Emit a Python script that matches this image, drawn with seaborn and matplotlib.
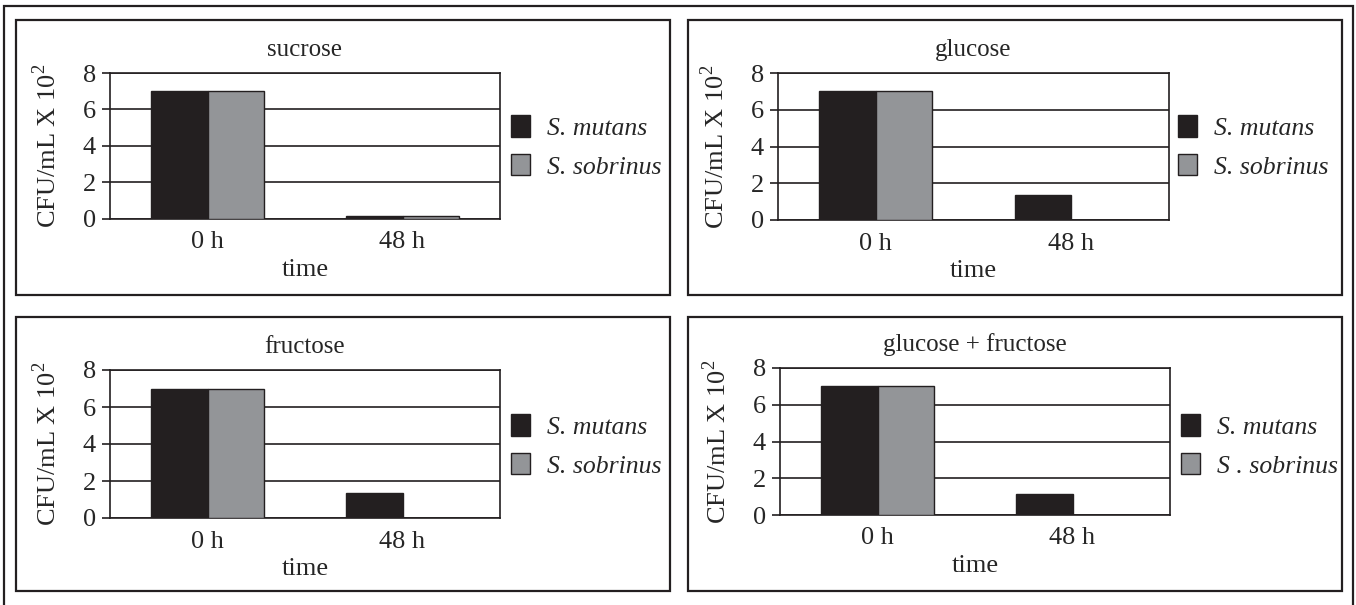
import matplotlib
matplotlib.use("Agg")
import matplotlib.pyplot as plt
from matplotlib.patches import Rectangle, Patch
import numpy as np
import pandas as pd
import seaborn as sns

# data (CFU/mL x 10^2)
times = ["0 h", "48 h"]
species = ["S. mutans", "S. sobrinus"]
panel_titles = ["sucrose", "glucose", "fructose", "glucose + fructose"]

sucrose_mutans = [7.0, 0.15]
sucrose_sobrinus = [7.0, 0.15]
glucose_mutans = [7.0, 1.35]
glucose_sobrinus = [7.0, 0.0]
fructose_mutans = [7.0, 1.35]
fructose_sobrinus = [7.0, 0.0]
glufru_mutans = [7.0, 1.15]
glufru_sobrinus = [7.0, 0.0]

legend_labels = [
    ["S. mutans", "S. sobrinus"],
    ["S. mutans", "S. sobrinus"],
    ["S. mutans", "S. sobrinus"],
    ["S. mutans", "S . sobrinus"],
]

sns.set_style("white")
plt.rcParams["font.family"] = ["Liberation Serif", "DejaVu Serif"]
plt.rcParams["mathtext.fontset"] = "custom"
plt.rcParams["mathtext.rm"] = "Liberation Serif"

W, H = 1356, 605
fig = plt.figure(figsize=(W / 100, H / 100), dpi=100)

line_col = "#231f20"
bar_cols = ["#231f20", "#939598"]
fs = 19


def px_axes(left, top, right, bottom):
    return fig.add_axes([left / W, 1 - bottom / H, (right - left) / W, (bottom - top) / H])


def px_rect(left, top, right, bottom, lw=1.6):
    fig.patches.append(Rectangle((left / W, 1 - bottom / H), (right - left) / W, (bottom - top) / H,
                                 transform=fig.transFigure, fill=False, edgecolor=line_col,
                                 linewidth=lw, zorder=0))


# outer frame and panel boxes
px_rect(4, 6, 1353, 640)
boxes = [(16, 20, 670, 295), (688, 20, 1342, 295), (16, 317, 670, 591), (688, 317, 1342, 591)]
for b in boxes:
    px_rect(*b)

axes_px = [(110, 73, 500, 219), (778, 73, 1169, 220), (110, 370, 500, 518), (780, 368, 1170, 515)]
legend_px = [(511, 147), (1178, 147), (511, 446), (1181, 446)]

series = [
    (sucrose_mutans, sucrose_sobrinus),
    (glucose_mutans, glucose_sobrinus),
    (fructose_mutans, fructose_sobrinus),
    (glufru_mutans, glufru_sobrinus),
]

for i, (mut, sob) in enumerate(series):
    ax = px_axes(*axes_px[i])
    df = pd.DataFrame({
        "time": times * 2,
        "cfu": list(mut) + list(sob),
        "species": [species[0]] * len(times) + [species[1]] * len(times),
    })
    sns.barplot(data=df, x="time", y="cfu", hue="species", palette=bar_cols, width=0.58,
                edgecolor=line_col, linewidth=1.0, saturation=1, ax=ax, legend=False, zorder=3)

    ax.set_ylim(0, 8)
    ax.set_xlim(-0.5, 1.5)
    ax.set_yticks([0, 2, 4, 6, 8])
    ax.set_yticklabels(["0", "2", "4", "6", "8"], fontsize=fs)
    ax.set_xticks([0, 1])
    ax.set_xticklabels(times, fontsize=fs)
    ax.set_xticks([-0.5, 0.5, 1.5], minor=True)
    ax.tick_params(axis="x", which="major", length=0, pad=9)
    ax.tick_params(axis="x", which="minor", length=9, width=1.2, color=line_col, direction="out")
    ax.tick_params(axis="y", length=6, width=1.2, color=line_col, direction="out", pad=4, left=True)
    ax.grid(axis="y", color=line_col, linewidth=1.2, zorder=0)
    ax.set_axisbelow(True)
    for s in ax.spines.values():
        s.set_visible(True)
        s.set_color(line_col)
        s.set_linewidth(1.2)

    ax.set_title(panel_titles[i], fontsize=18, pad=12)
    ax.set_xlabel("time", fontsize=fs, labelpad=4)
    ax.set_ylabel(r"CFU/mL X 10$^{2}$", fontsize=fs, labelpad=16)

    handles = [Patch(facecolor=bar_cols[k], edgecolor=line_col, linewidth=1.0) for k in range(2)]
    lx, ly = legend_px[i]
    ax.legend(handles, legend_labels[i], loc="center left",
              bbox_to_anchor=(lx / W, 1 - ly / H), bbox_transform=fig.transFigure,
              frameon=False, prop={"size": 18.5, "style": "italic"},
              handlelength=0.75, handleheight=0.9, handletextpad=0.65, labelspacing=0.55,
              borderaxespad=0, borderpad=0)

fig.savefig("out.png", dpi=100)
